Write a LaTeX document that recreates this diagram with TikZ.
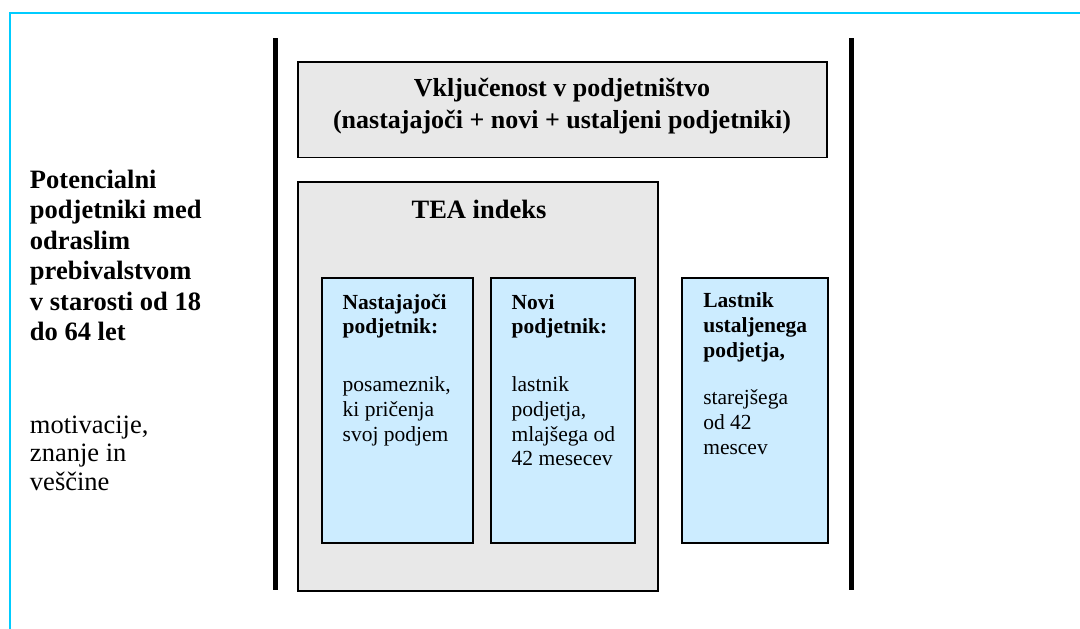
\documentclass[tikz,border=0pt]{standalone}
\usepackage{fontspec}
\setmainfont{Liberation Serif}
\definecolor{frameblue}{RGB}{0,204,255}
\definecolor{boxgray}{RGB}{232,232,232}
\definecolor{boxblue}{RGB}{204,236,255}
\newcommand\stacklines[2]{\vtop{\baselineskip=#1\lineskiplimit=-1000pt\relax #2}}
\newcommand\ctrline[1]{\hbox to 0pt{\hss #1\hss}}
\begin{document}
\begin{tikzpicture}[x=1pt,y=-1pt,
  every node/.style={inner sep=0pt, outer sep=0pt},
  gbox/.style={draw=black, line width=1.5pt, fill=boxgray, anchor=north west},
  bbox/.style={draw=black, line width=1.5pt, fill=boxblue, anchor=north west},
  bar/.style={line width=5pt},
  frame/.style={draw=frameblue, line width=2pt},
  btxt/.style={anchor=base west, font=\fontsize{21.5}{24.8}\selectfont}]
\useasboundingbox (0,0) rectangle (1080,629);
% frame
\draw[frame] (10,629) -- (10,13) -- (1080,13);
% bars
\coordinate (lbt) at (275,38); \coordinate (lbb) at (275,590);
\coordinate (rbt) at (851,38); \coordinate (rbb) at (851,590);
\draw[bar] (lbt) -- (lbb);
\draw[bar] (rbt) -- (rbb);
% boxes
\node[gbox, minimum width=529pt, minimum height=95.5pt] (incl) at (298,62) {};
\node[gbox, minimum width=360pt, minimum height=409pt] (tea) at (298,182) {};
\node[bbox, minimum width=151pt, minimum height=265pt] (nast) at (322,278) {};
\node[bbox, minimum width=144pt, minimum height=265pt] (novi) at (491,278) {};
\node[bbox, minimum width=146pt, minimum height=265pt] (last) at (682,278) {};
% title
\node[anchor=base, font=\fontsize{26}{31}\selectfont\bfseries] (incltxt) at (562,96.7)
  {\stacklines{31.6pt}{\ctrline{Vključenost v podjetništvo}\ctrline{(nastajajoči + novi + ustaljeni podjetniki)}}};
\node[anchor=base, font=\fontsize{26.5}{30}\selectfont\bfseries] (teatxt) at (479,218.3) {TEA indeks};
% left texts
\node[anchor=base west, font=\fontsize{26.5}{30.5}\selectfont\bfseries] (pot) at (30,188.3)
  {\stacklines{30.5pt}{\hbox{Potencialni}\hbox{podjetniki med}\hbox{odraslim}\hbox{prebivalstvom}\hbox{v starosti od 18}\hbox{do 64 let}}};
\node[anchor=base west, font=\fontsize{26.5}{28.5}\selectfont] (mot) at (30,433.3)
  {\stacklines{28.5pt}{\hbox{motivacije,}\hbox{znanje in}\hbox{veščine}}};
% box texts
\node[btxt] (nasttxt) at (342.7,309)
  {\stacklines{24.8pt}{\hbox{\bfseries Nastajajoči}\hbox{\bfseries podjetnik:}\vskip 32.9pt
   \hbox{posameznik,}\hbox{ki pričenja}\hbox{svoj podjem}}};
\node[btxt] (novitxt) at (511.7,309)
  {\stacklines{24.8pt}{\hbox{\bfseries Novi}\hbox{\bfseries podjetnik:}\vskip 32.9pt
   \hbox{lastnik}\hbox{podjetja,}\hbox{mlajšega od}\hbox{42 mesecev}}};
\node[btxt] (lasttxt) at (703.3,307.7)
  {\stacklines{24.8pt}{\hbox{\bfseries Lastnik}\hbox{\bfseries ustaljenega}\hbox{\bfseries podjetja,}\vskip 22.6pt
   \hbox{starejšega}\hbox{od 42}\hbox{mescev}}};
\end{tikzpicture}
\end{document}
